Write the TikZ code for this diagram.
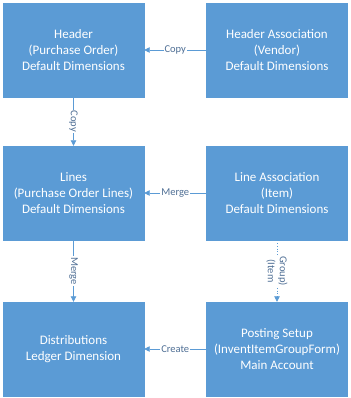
\documentclass[tikz,border=0pt]{standalone}
\usepackage{fontspec}
\setmainfont{Carlito}
\usetikzlibrary{arrows.meta}
\definecolor{boxblue}{HTML}{5B9BD5}
\definecolor{lblcol}{HTML}{4F6F95}
\tikzset{
  box/.style={draw=boxblue, fill=boxblue, minimum width=141pt, minimum height=94pt,
    text=white, align=center, inner sep=0pt,
    font=\fontsize{13}{16}\selectfont},
  conn/.style={draw=boxblue, line width=0.8pt, -{Triangle[length=5.5pt,width=5.5pt]}},
  lbl/.style={fill=white, text=lblcol, inner sep=1pt, font=\fontsize{10.5}{11}\selectfont},
}
\begin{document}
\begin{tikzpicture}[x=1pt,y=-1pt]
\useasboundingbox (0,0) rectangle (350,398);
\node[box] (hdr) at (73.5,50) {Header\\(Purchase Order)\\Default Dimensions};
\node[box] (hdra) at (277,50) {Header Association\\(Vendor)\\Default Dimensions};
\node[box] (lines) at (73.5,193) {Lines\\(Purchase Order Lines)\\Default Dimensions};
\node[box] (linea) at (277,193) {Line Association\\(Item)\\Default Dimensions};
\node[box] (dist) at (73.5,349) {Distributions\\Ledger Dimension};
\node[box] (post) at (277,349) {Posting Setup\\(InventItemGroupForm)\\Main Account};
\draw[conn] (hdra) -- node[lbl] {Copy} (hdr);
\draw[conn] (linea) -- node[lbl] {Merge} (lines);
\draw[conn] (post) -- node[lbl] {Create} (dist);
\draw[conn] (hdr) -- node[lbl, rotate=-90] {Copy} (lines);
\draw[conn] (lines) -- node[lbl, rotate=-90] {Merge} (dist);
\draw[conn, dotted] (linea) -- node[lbl, rotate=-90, align=center, font=\fontsize{10.5}{12}\selectfont] {Group)\\(Item} (post);
\end{tikzpicture}
\end{document}
